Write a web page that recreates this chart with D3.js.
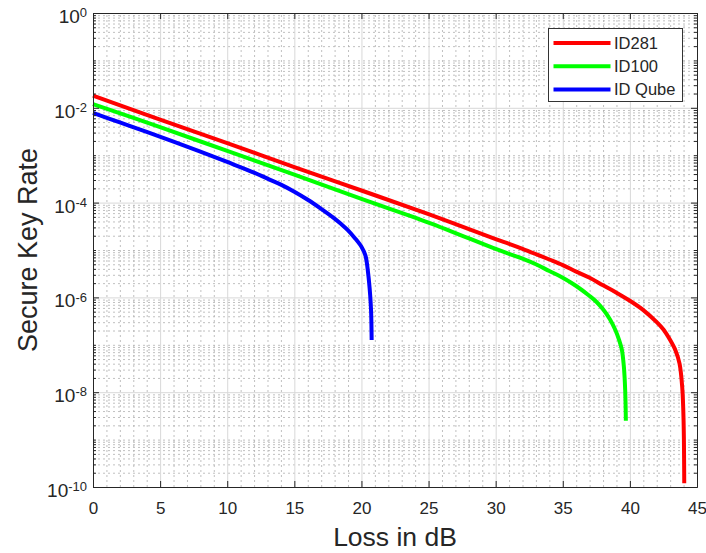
<!DOCTYPE html>
<html>
<head>
<meta charset="utf-8">
<script src="https://cdn.jsdelivr.net/npm/d3@7"></script>
<style>
  body { margin: 0; background: #fff; }
  text { font-family: "Liberation Sans", Arial, sans-serif; fill: #262626; }
</style>
</head>
<body>
<div id="chart"></div>
<script>
// -------------------- Data --------------------
const xTicks = [0, 5, 10, 15, 20, 25, 30, 35, 40, 45];
const yTicks = [1e0, 1e-2, 1e-4, 1e-6, 1e-8, 1e-10];
const yTickExp = ["0", "-2", "-4", "-6", "-8", "-10"];

const id281Loss = [0, 5, 10, 15, 20, 25, 30, 31, 32, 33, 34, 35, 36, 37, 38, 39, 40, 41, 42, 42.5, 43, 43.4, 43.7, 43.9, 44.0, 44.05];
const id281Rate = [1.8e-2, 5.6e-3, 1.8e-3, 5.6e-4, 1.8e-4, 5.7e-5, 1.7e-5, 1.35e-5, 1.06e-5, 8.2e-6, 6.3e-6, 4.8e-6, 3.5e-6, 2.6e-6, 1.8e-6, 1.26e-6, 8.5e-7, 5.4e-7, 3.0e-7, 2.1e-7, 1.26e-7, 7.6e-8, 4.0e-8, 1.26e-8, 2.5e-9, 1.2e-10];

const id100Loss = [0, 5, 10, 15, 20, 25, 30, 31, 32, 33, 34, 35, 36, 37, 37.5, 38, 38.5, 38.9, 39.2, 39.4, 39.55, 39.65, 39.7];
const id100Rate = [1.2e-2, 3.9e-3, 1.23e-3, 3.9e-4, 1.2e-4, 3.8e-5, 1.05e-5, 8.3e-6, 6.6e-6, 5.0e-6, 3.6e-6, 2.6e-6, 1.74e-6, 1.07e-6, 8.1e-7, 5.6e-7, 3.5e-7, 2.1e-7, 1.26e-7, 7.9e-8, 3.5e-8, 1.1e-8, 2.5e-9];

const qubeLoss = [0, 2, 4, 6, 8, 10, 12, 13, 14, 15, 16, 17, 18, 18.5, 19, 19.5, 20, 20.3, 20.5, 20.65, 20.72, 20.76];
const qubeRate = [7.8e-3, 4.9e-3, 3.1e-3, 1.93e-3, 1.19e-3, 7.2e-4, 4.3e-4, 3.2e-4, 2.4e-4, 1.7e-4, 1.15e-4, 7.4e-5, 4.6e-5, 3.5e-5, 2.6e-5, 1.8e-5, 1.17e-5, 7.6e-6, 3.2e-6, 1.12e-6, 5.0e-7, 1.26e-7];

const seriesNames = ["ID281", "ID100", "ID Qube"];
const seriesColors = ["#ff0000", "#00ff00", "#0000ff"];

const series = [
  { name: seriesNames[0], color: seriesColors[0], pts: id281Loss.map((l, i) => [l, id281Rate[i]]) },
  { name: seriesNames[1], color: seriesColors[1], pts: id100Loss.map((l, i) => [l, id100Rate[i]]) },
  { name: seriesNames[2], color: seriesColors[2], pts: qubeLoss.map((l, i) => [l, qubeRate[i]]) }
];

// minor positions: every 1 dB, and 2..9 x 10^k
const xMinor = d3.range(0, 46, 1).filter(v => v % 5 !== 0);
const yMinor = [];
for (let k = -10; k < 0; k++) {
  for (let m = 1; m <= 9; m++) {
    const v = m * Math.pow(10, k);
    if (!(m === 1 && k % 2 === 0)) yMinor.push(v);
  }
}

// -------------------- SVG --------------------
const W = 706, H = 553;
const margin = { top: 13, right: 9, bottom: 66, left: 93 };
const w = W - margin.left - margin.right;
const h = H - margin.top - margin.bottom;

const svg = d3.select("#chart").append("svg")
  .attr("width", W).attr("height", H);
svg.append("rect").attr("width", W).attr("height", H).attr("fill", "#fff");

const g = svg.append("g").attr("transform", `translate(${margin.left},${margin.top})`);

const x = d3.scaleLinear().domain([0, 45]).range([0, w]);
const y = d3.scaleLog().domain([1e-10, 1]).range([h, 0]);

// -------------------- Grid --------------------
const gridMinorX = g.append("g").attr("transform", `translate(0,${h})`)
  .call(d3.axisBottom(x).tickValues(xMinor).tickSize(-h).tickFormat(""));
const gridMinorY = g.append("g")
  .call(d3.axisLeft(y).tickValues(yMinor).tickSize(-w).tickFormat(""));
[gridMinorX, gridMinorY].forEach(s => {
  s.select(".domain").remove();
  s.selectAll("line").attr("stroke", "#b0b0b0").attr("stroke-dasharray", "2,3").attr("stroke-width", 0.8);
});

const gridMajorX = g.append("g").attr("transform", `translate(0,${h})`)
  .call(d3.axisBottom(x).tickValues(xTicks).tickSize(-h).tickFormat(""));
const gridMajorY = g.append("g")
  .call(d3.axisLeft(y).tickValues(yTicks).tickSize(-w).tickFormat(""));
[gridMajorX, gridMajorY].forEach(s => {
  s.select(".domain").remove();
  s.selectAll("line").attr("stroke", "#d8d8d8").attr("stroke-width", 1);
});

// -------------------- Lines --------------------
const line = d3.line()
  .x(d => x(d[0]))
  .y(d => y(d[1]))
  .curve(d3.curveCatmullRom.alpha(0.5));

g.append("g").selectAll("path")
  .data(series)
  .join("path")
  .attr("fill", "none")
  .attr("stroke", d => d.color)
  .attr("stroke-width", 4)
  .attr("d", d => line(d.pts));

// -------------------- Axes --------------------
const axisColor = "#262626";

const xAxis = g.append("g").attr("transform", `translate(0,${h})`)
  .call(d3.axisBottom(x).tickValues(xTicks).tickSizeInner(-6).tickSizeOuter(0).tickPadding(15).tickFormat(d3.format("d")));
xAxis.selectAll("text").style("font-size", "17px");

const xTop = g.append("g")
  .call(d3.axisTop(x).tickValues(xTicks).tickSizeInner(-6).tickSizeOuter(0).tickFormat(""));

const yAxis = g.append("g")
  .call(d3.axisLeft(y).tickValues(yTicks).tickSizeInner(-6).tickSizeOuter(0).tickPadding(6).tickFormat(""));
yAxis.selectAll(".tick text").each(function (d, i) {
  const t = d3.select(this).attr("dy", "0.5em").style("font-size", "19px");
  t.append("tspan").text("10");
  t.append("tspan").attr("dy", "-0.45em").style("font-size", "13px").text(yTickExp[i]);
});

const yRight = g.append("g").attr("transform", `translate(${w},0)`)
  .call(d3.axisRight(y).tickValues(yTicks).tickSizeInner(-6).tickSizeOuter(0).tickFormat(""));

const yMinorL = g.append("g")
  .call(d3.axisLeft(y).tickValues(yMinor).tickSizeInner(-3).tickSizeOuter(0).tickFormat(""));
const yMinorR = g.append("g").attr("transform", `translate(${w},0)`)
  .call(d3.axisRight(y).tickValues(yMinor).tickSizeInner(-3).tickSizeOuter(0).tickFormat(""));

[xAxis, xTop, yAxis, yRight, yMinorL, yMinorR].forEach(s => {
  s.selectAll("line").attr("stroke", axisColor);
  s.select(".domain").attr("stroke", axisColor);
});

// -------------------- Labels --------------------
g.append("text")
  .attr("x", w / 2)
  .attr("y", h + 59)
  .attr("text-anchor", "middle")
  .style("font-size", "26.5px")
  .text("Loss in dB");

g.append("text")
  .attr("transform", `translate(${-56},${h / 2}) rotate(-90)`)
  .attr("text-anchor", "middle")
  .style("font-size", "27px")
  .text("Secure Key Rate");

// -------------------- Legend --------------------
const legend = svg.append("g").attr("transform", "translate(548.5,28.5)");
legend.append("rect")
  .attr("width", 134).attr("height", 73)
  .attr("fill", "#fff").attr("stroke", "#333").attr("stroke-width", 1);

const rows = legend.selectAll("g.row")
  .data(series)
  .join("g")
  .attr("class", "row")
  .attr("transform", (d, i) => `translate(0,${14.5 + i * 23.2})`);
rows.append("line")
  .attr("x1", 5).attr("x2", 62)
  .attr("stroke", d => d.color).attr("stroke-width", 4);
rows.append("text")
  .attr("x", 65.5).attr("y", 6)
  .style("font-size", "16.5px")
  .text(d => d.name);
</script>
</body>
</html>
